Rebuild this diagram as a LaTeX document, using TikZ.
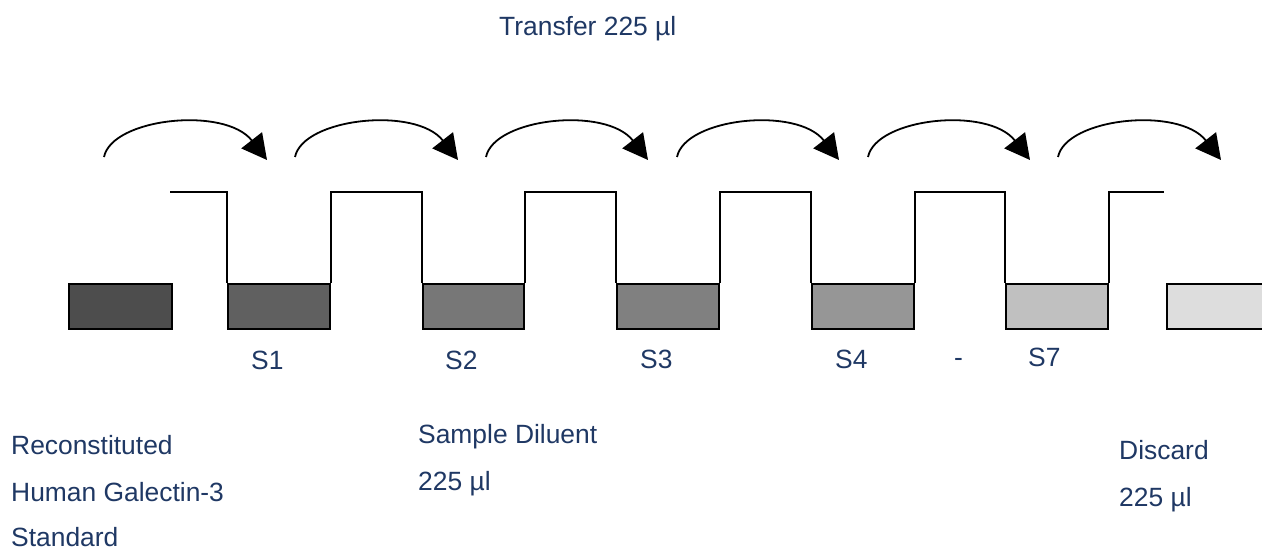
\documentclass[tikz,border=0pt]{standalone}
\usepackage{fontspec}
\setmainfont{Liberation Sans}
\usetikzlibrary{arrows.meta}
\definecolor{txtblue}{RGB}{31,56,100}
\definecolor{g0}{HTML}{4D4D4D}
\definecolor{g1}{HTML}{606060}
\definecolor{g2}{HTML}{777777}
\definecolor{g3}{HTML}{808080}
\definecolor{g4}{HTML}{969696}
\definecolor{g5}{HTML}{C0C0C0}
\definecolor{g6}{HTML}{DDDDDD}
\begin{document}
\begin{tikzpicture}[x=1pt,y=-1pt,
  tube/.style={line width=1.8pt, line join=miter},
  well/.style={draw=black, line width=1.8pt, inner sep=0pt, minimum height=45pt, anchor=north west},
  lbl/.style={text=txtblue, font=\fontsize{26.4}{26.4}\selectfont, inner sep=0pt, anchor=base west},
  xfer/.style={line width=1.8pt, -{Triangle[length=25pt,width=26pt]}}]
\useasboundingbox (0,0) rectangle (1262,551);
\fill[white] (0,0) rectangle (1262,551);

% wells
\node[well, fill=g0, minimum width=103pt] (b0) at (68,283) {};
\node[well, fill=g1, minimum width=102pt] (b1) at (227,283) {};
\node[well, fill=g2, minimum width=101pt] (b2) at (422,283) {};
\node[well, fill=g3, minimum width=102pt] (b3) at (616,283) {};
\node[well, fill=g4, minimum width=102pt] (b4) at (811,283) {};
\node[well, fill=g5, minimum width=102pt] (b5) at (1005,283) {};
\node[well, fill=g6, minimum width=104pt] (b6) at (1166,283) {};

% tube outlines
\coordinate (tubestart) at (170,192);
\coordinate (tubeend) at (1164,192);
\draw[tube] (tubestart) -| (b1.north west);
\draw[tube] (b1.north east) -- ++(0,-91) -| (b2.north west);
\draw[tube] (b2.north east) -- ++(0,-91) -| (b3.north west);
\draw[tube] (b3.north east) -- ++(0,-91) -| (b4.north west);
\draw[tube] (b4.north east) -- ++(0,-91) -| (b5.north west);
\draw[tube] (b5.north east) -- ++(0,-91) -- (tubeend);

% transfer arrows
\foreach \s/\e [count=\i] in {104/267, 295/458, 486/648, 677/839, 868/1030, 1058/1221} {
  \coordinate (as\i) at (\s,157);
  \coordinate (ae\i) at (\e,160);
  \draw[xfer] (as\i) .. controls +(8,-39) and +(-42,-54) .. (ae\i);
}

% labels
\node[lbl] (transfer) at (499,36) {Transfer 225 µl};
\node[lbl] (s1) at (251,369) {S1};
\node[lbl] (s2) at (445,369) {S2};
\node[lbl] (s3) at (640,368) {S3};
\node[lbl] (s4) at (835,368) {S4};
\node[lbl] (dash) at (954,366) {-};
\node[lbl] (s7) at (1028,366) {S7};
\node[lbl] (rec1) at (11,454) {Reconstituted};
\node[lbl] (rec2) at (11,501) {Human Galectin-3};
\node[lbl] (rec3) at (11,546) {Standard};
\node[lbl] (dil1) at (418,443) {Sample Diluent};
\node[lbl] (dil2) at (418,490) {225 µl};
\node[lbl] (dis1) at (1119,459) {Discard};
\node[lbl] (dis2) at (1119,506) {225 µl};
\end{tikzpicture}
\end{document}
